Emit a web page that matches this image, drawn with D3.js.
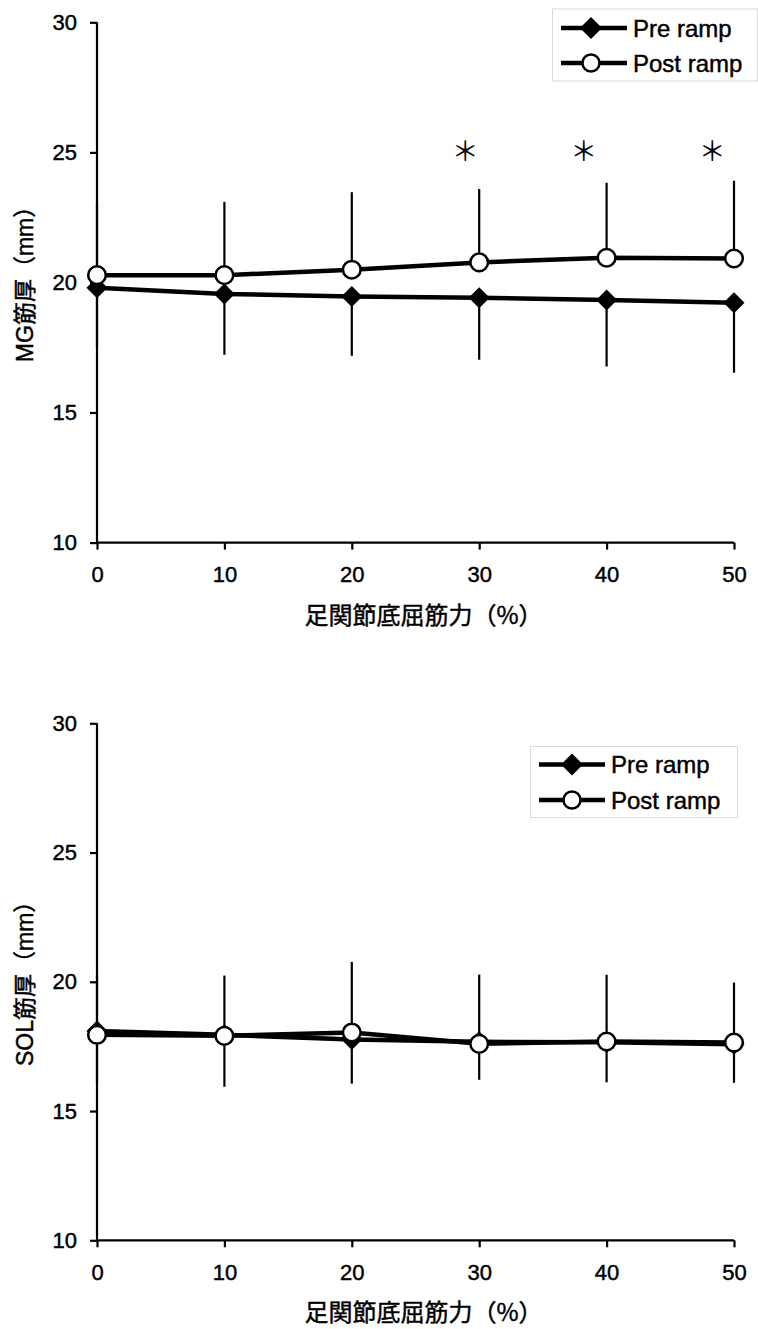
<!DOCTYPE html>
<html>
<head>
<meta charset="utf-8">
<script src="https://cdn.jsdelivr.net/npm/d3@7"></script>
<style>
  html, body { margin: 0; padding: 0; background: #fff; }
  svg { display: block; }
  text { fill: #000; }
</style>
</head>
<body>
<svg id="chart" width="758" height="1329"></svg>
<script>
// Contraction intensity (% of max plantar flexion torque)
const forceLevels = [0, 10, 20, 30, 40, 50];
const xTicks = [0, 10, 20, 30, 40, 50];
const yTicks = [10, 15, 20, 25, 30];

// Medial gastrocnemius thickness (mm), mean and SD
const mgPreMean  = [19.80, 19.56, 19.46, 19.41, 19.33, 19.22];
const mgPreSD    = [2.30, 2.34, 2.28, 2.38, 2.56, 2.69];
const mgPostMean = [20.28, 20.28, 20.49, 20.77, 20.95, 20.92];
const mgPostSD   = [2.80, 2.82, 2.98, 2.82, 2.88, 2.99];
// Significant Pre vs Post differences
const mgSigX = [28.9, 38.2, 48.3];
const mgSigY = 25.1;

// Soleus thickness (mm), mean and SD
const solPreMean  = [18.10, 17.95, 17.77, 17.68, 17.66, 17.58];
const solPreSD    = [2.00, 2.01, 1.71, 1.47, 1.55, 1.49];
const solPostMean = [17.95, 17.91, 18.04, 17.60, 17.69, 17.65];
const solPostSD   = [2.30, 2.33, 2.73, 2.68, 2.58, 2.32];

const seriesNames = ["Pre ramp", "Post ramp"];
const xTitle = "足関節底屈筋力（%）";

const svg = d3.select("#chart");
const latin = "'Liberation Sans', Arial, 'Noto Sans CJK JP', sans-serif";

const x = d3.scaleLinear().domain([0, 50]).range([97, 734]);

const panels = [
  { top: 22.3, bottom: 542.6, yTitle: "MG筋厚（mm）",
    pre: mgPreMean, preSD: mgPreSD, post: mgPostMean, postSD: mgPostSD,
    sig: mgSigX,
    legend: { x0: 552.5, y0: 9, x1: 757.5, y1: 81, lineX0: 561, lineX1: 627, mx: 591, tx: 633, rows: [28, 63] } },
  { top: 723.3, bottom: 1240.3, yTitle: "SOL筋厚（mm）",
    pre: solPreMean, preSD: solPreSD, post: solPostMean, postSD: solPostSD,
    sig: [],
    legend: { x0: 530.5, y0: 746.5, x1: 737.5, y1: 817.5, lineX0: 539, lineX1: 605, mx: 572, tx: 611, rows: [764.5, 800] } }
];

function diamondPath(r) {
  return `M0,${-r}L${r},0L0,${r}L${-r},0Z`;
}

// Slightly heavier glyphs for all labels
function ink(sel) {
  return sel.attr("stroke", "#000").attr("stroke-width", 0.45);
}

panels.forEach(p => {
  const y = d3.scaleLinear().domain([10, 30]).range([p.bottom, p.top]);
  const g = svg.append("g");

  // Axes
  const yAxis = d3.axisLeft(y).tickValues(yTicks).tickSize(7).tickPadding(7).tickFormat(d3.format("d"));
  const yg = g.append("g").attr("transform", `translate(${x(0)},0)`).call(yAxis);
  const xAxis = d3.axisBottom(x).tickValues(xTicks).tickSize(7).tickPadding(17).tickFormat(d3.format("d"));
  const xg = g.append("g").attr("transform", `translate(0,${y(10)})`).call(xAxis);
  [yg, xg].forEach(a => {
    a.attr("font-size", 22).attr("font-family", latin);
    a.select(".domain").attr("stroke", "#000").attr("stroke-width", 2.2);
    a.selectAll(".tick line").attr("stroke", "#000").attr("stroke-width", 2.2);
    ink(a.selectAll(".tick text").style("font-size", "22px").style("font-family", latin).attr("fill", "#000"));
  });
  yg.select(".domain").attr("d", `M0,${y(10)}V${y(30)}`);
  yg.selectAll(".tick text").attr("x", -20);
  xg.select(".domain").attr("d", `M${x(0)},0H${x(50)}`);

  // Axis titles
  ink(g.append("text")
    .attr("transform", `translate(33,${(y(10) + y(30)) / 2 - 4}) rotate(-90)`)
    .attr("text-anchor", "middle")
    .style("font-family", latin)
    .style("font-size", "23px")
    .text(p.yTitle));
  ink(g.append("text")
    .attr("x", (x(0) + x(50)) / 2 + 8)
    .attr("y", y(10) + 81)
    .attr("text-anchor", "middle")
    .style("font-family", "'Noto Sans CJK JP', sans-serif")
    .style("font-size", "24px")
    .text(xTitle));

  const line = d3.line().x((d, i) => x(forceLevels[i])).y(d => y(d));

  // Pre ramp: downward SD bars, line, filled diamonds
  g.append("g").selectAll("line").data(p.pre).join("line")
    .attr("x1", (d, i) => x(forceLevels[i])).attr("x2", (d, i) => x(forceLevels[i]))
    .attr("y1", d => y(d)).attr("y2", (d, i) => y(d - p.preSD[i]))
    .attr("stroke", "#000").attr("stroke-width", 2.2);
  g.append("path").datum(p.pre).attr("d", line)
    .attr("fill", "none").attr("stroke", "#000").attr("stroke-width", 4.5).attr("stroke-linejoin", "round");
  g.append("g").selectAll("path").data(p.pre).join("path")
    .attr("transform", (d, i) => `translate(${x(forceLevels[i])},${y(d)})`)
    .attr("d", diamondPath(10.5)).attr("fill", "#000");

  // Post ramp: upward SD bars, line, open circles
  g.append("g").selectAll("line").data(p.post).join("line")
    .attr("x1", (d, i) => x(forceLevels[i])).attr("x2", (d, i) => x(forceLevels[i]))
    .attr("y1", d => y(d)).attr("y2", (d, i) => y(d + p.postSD[i]))
    .attr("stroke", "#000").attr("stroke-width", 2.2);
  g.append("path").datum(p.post).attr("d", line)
    .attr("fill", "none").attr("stroke", "#000").attr("stroke-width", 4.5).attr("stroke-linejoin", "round");
  g.append("g").selectAll("circle").data(p.post).join("circle")
    .attr("cx", (d, i) => x(forceLevels[i])).attr("cy", d => y(d))
    .attr("r", 8.8).attr("fill", "#fff").attr("stroke", "#000").attr("stroke-width", 2.5);

  // Significance marks
  g.append("g").selectAll("text").data(p.sig).join("text")
    .attr("x", d => x(d)).attr("y", y(mgSigY))
    .attr("text-anchor", "middle").attr("dominant-baseline", "central")
    .style("font-family", "'Noto Sans CJK JP', sans-serif").style("font-size", "27px")
    .text("＊");

  // Legend
  const L = p.legend;
  const lg = g.append("g");
  lg.append("rect").attr("x", L.x0).attr("y", L.y0).attr("width", L.x1 - L.x0).attr("height", L.y1 - L.y0)
    .attr("fill", "#fff").attr("stroke", "#d9d9d9").attr("stroke-width", 1);
  seriesNames.forEach((name, k) => {
    const cy = L.rows[k];
    lg.append("line").attr("x1", L.lineX0).attr("x2", L.lineX1).attr("y1", cy).attr("y2", cy)
      .attr("stroke", "#000").attr("stroke-width", 4.5);
    if (k === 0) {
      lg.append("path").attr("transform", `translate(${L.mx},${cy})`).attr("d", diamondPath(11)).attr("fill", "#000");
    } else {
      lg.append("circle").attr("cx", L.mx).attr("cy", cy).attr("r", 8.5)
        .attr("fill", "#fff").attr("stroke", "#000").attr("stroke-width", 2.5);
    }
    ink(lg.append("text").attr("x", L.tx).attr("y", cy).attr("dy", "0.36em")
      .style("font-family", latin).style("font-size", "24px").text(name));
  });
});
</script>
</body>
</html>
